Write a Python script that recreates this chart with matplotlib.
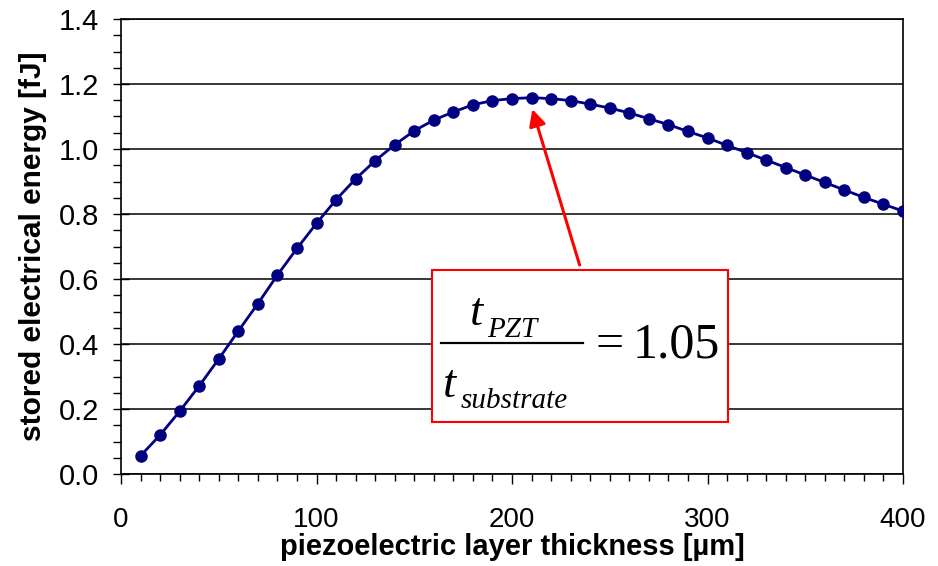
import numpy as np
import matplotlib
matplotlib.use('Agg')
import matplotlib.pyplot as plt
from matplotlib.patches import Rectangle
from matplotlib.lines import Line2D
from matplotlib.ticker import MultipleLocator, FormatStrFormatter

# piezoelectric layer thickness [um] and stored energy [fJ]
thickness = [10, 20, 30, 40, 50, 60, 70, 80, 90, 100,
             110, 120, 130, 140, 150, 160, 170, 180, 190, 200,
             210, 220, 230, 240, 250, 260, 270, 280, 290, 300,
             310, 320, 330, 340, 350, 360, 370, 380, 390, 400]
energy = [0.056, 0.120, 0.193, 0.271, 0.354, 0.440, 0.524, 0.612, 0.694, 0.771,
          0.844, 0.908, 0.964, 1.013, 1.056, 1.089, 1.114, 1.136, 1.149, 1.155,
          1.158, 1.155, 1.149, 1.138, 1.126, 1.111, 1.093, 1.075, 1.054, 1.034,
          1.011, 0.989, 0.966, 0.943, 0.920, 0.897, 0.874, 0.851, 0.830, 0.809]

peak_x = 210
peak_y = 1.158
ratio_value = '1.05'

plt.rcParams['font.family'] = ['Liberation Sans', 'DejaVu Sans']

W, H = 938, 566
fig = plt.figure(figsize=(W / 100, H / 100), dpi=100)
ax = fig.add_axes([121 / W, 1 - 474 / H, (903 - 121) / W, (474 - 19) / H])

ax.plot(thickness, energy, color='#000080', lw=2.0, marker='o', ms=8, zorder=3)

ax.set_xlim(0, 400)
ax.set_ylim(0, 1.4)
ax.xaxis.set_major_locator(MultipleLocator(100))
ax.xaxis.set_minor_locator(MultipleLocator(10))
ax.yaxis.set_major_locator(MultipleLocator(0.2))
ax.yaxis.set_minor_locator(MultipleLocator(0.05))
ax.yaxis.set_major_formatter(FormatStrFormatter('%.1f'))
ax.grid(axis='y', which='major', color='black', lw=1.1)
ax.set_axisbelow(True)

ax.tick_params(axis='y', which='major', direction='inout', length=12, width=1, labelsize=21, pad=10)
ax.tick_params(axis='y', which='minor', direction='out', length=6, width=1)
ax.tick_params(axis='x', which='major', direction='out', length=7, width=1, labelsize=20, pad=17)
ax.tick_params(axis='x', which='minor', direction='out', length=5, width=1)
for s in ax.spines.values():
    s.set_linewidth(1.2)

ax.set_xlabel('piezoelectric layer thickness [µm]', fontsize=21, fontweight='bold', labelpad=0)
ax.set_ylabel('stored electrical energy [fJ]', fontsize=21.5, fontweight='bold', labelpad=8)

# arrow pointing at the maximum
ax.annotate('', xy=(peak_x, peak_y - 0.027), xytext=(235, 0.635),
            arrowprops=dict(arrowstyle='-|>', color='red', lw=2.2, mutation_scale=25))

# boxed ratio, laid out in figure pixels
def fx(px):
    return px / W

def fy(py):
    return 1 - py / H

fig.patches.append(Rectangle((fx(432), fy(422)), fx(728) - fx(432), fy(270) - fy(422),
                             transform=fig.transFigure, fc='white', ec='red', lw=1.5, zorder=5))
serif = 'Liberation Serif'
fig.text(fx(470), fy(325), 't', family=serif, style='italic', fontsize=34, va='baseline', zorder=6)
fig.text(fx(487), fy(337), 'PZT', family=serif, style='italic', fontsize=21, va='baseline', zorder=6)
fig.lines.append(Line2D([fx(441), fx(583)], [fy(343), fy(343)], transform=fig.transFigure,
                        color='black', lw=1.6, zorder=6))
fig.text(fx(443), fy(397), 't', family=serif, style='italic', fontsize=34, va='baseline', zorder=6)
fig.text(fx(461), fy(408), 'substrate', family=serif, style='italic', fontsize=21, va='baseline', zorder=6)
fig.text(fx(595), fy(357), '=', family=serif, fontsize=36, va='baseline', zorder=6)
fig.text(fx(633), fy(357), ratio_value, family=serif, fontsize=36, va='baseline', zorder=6)

plt.savefig('out.png', dpi=100)
plt.close()
